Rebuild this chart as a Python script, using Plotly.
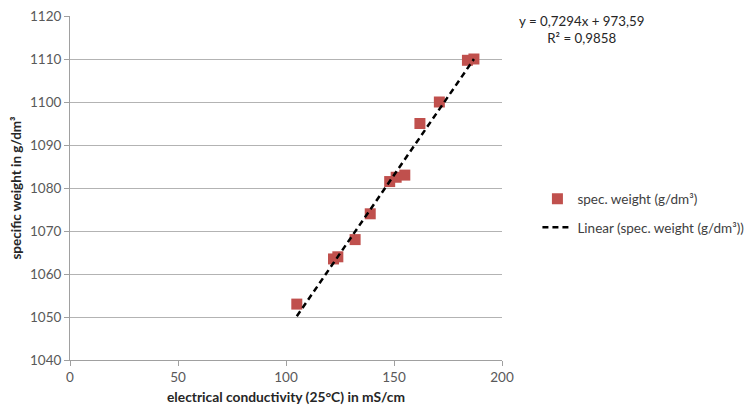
import plotly.graph_objects as go

# Data
conductivity = [105, 122, 124, 132, 139, 148, 151, 155, 162, 171, 184, 187]
spec_weight = [1053, 1063.5, 1064, 1068, 1074, 1081.5, 1082.5, 1083, 1095, 1100, 1109.7, 1110]
slope = 0.7294
intercept = 973.59
r_squared = 0.9858
x_ticks = [0, 50, 100, 150, 200]
y_ticks = [1040, 1050, 1060, 1070, 1080, 1090, 1100, 1110, 1120]

trend_x = [min(conductivity), max(conductivity)]
trend_y = [slope * v + intercept for v in trend_x]

FONT = "Lato, Carlito, Calibri, sans-serif"
fig = go.Figure()
fig.add_trace(go.Scatter(
    x=conductivity, y=spec_weight, mode="markers",
    name="spec. weight (g/dm³)",
    marker=dict(symbol="square", size=11, color="#C0504D"),
    legendgroup="a",
))
fig.add_trace(go.Scatter(
    x=trend_x, y=trend_y, mode="lines",
    name="Linear (spec. weight (g/dm³))",
    line=dict(color="black", width=2.5, dash="6px,4px"),
    legendgroup="b",
))

# page body has an 8px default margin, so the figure is 8px smaller
fig.update_layout(
    width=745, height=404,
    margin=dict(l=62, r=251, t=8, b=52, autoexpand=False),
    paper_bgcolor="white", plot_bgcolor="white",
    font=dict(family=FONT, size=13.5, color="#595959"),
    showlegend=True,
    legend=dict(x=1.082, y=0.513, xanchor="left", yanchor="top",
                font=dict(family=FONT, size=13.5, color="#404040"),
                tracegroupgap=8, traceorder="grouped",
                bgcolor="rgba(0,0,0,0)"),
    xaxis=dict(range=[0, 200], tickvals=x_ticks, showgrid=False,
               showline=True, linecolor="#a0a0a0", linewidth=1,
               ticks="outside", ticklen=5, tickcolor="#a0a0a0",
               zeroline=False, automargin=False,
               title=dict(text="<b>electrical conductivity (25°C) in mS/cm</b>",
                          font=dict(family=FONT, size=13.8, color="#262626"),
                          standoff=8)),
    yaxis=dict(range=[1040, 1120], tickvals=y_ticks, showgrid=True,
               gridcolor="#b3b3b3", gridwidth=1,
               showline=True, linecolor="#a0a0a0", linewidth=1,
               ticks="outside", ticklen=5, tickcolor="#a0a0a0",
               ticklabeloverflow="allow",
               zeroline=False, automargin=False,
               title=dict(text="<b>specific weight in g/dm³</b>",
                          font=dict(family=FONT, size=13.5, color="#262626"),
                          standoff=6)),
)

fig.add_annotation(
    xref="paper", yref="paper", x=1.185, y=1.015, xanchor="center", yanchor="top",
    text="y = 0,7294x + 973,59<br>R² = 0,9858", showarrow=False, align="center",
    font=dict(family=FONT, size=13.3, color="#262626"),
)

fig.write_html("out.html")
